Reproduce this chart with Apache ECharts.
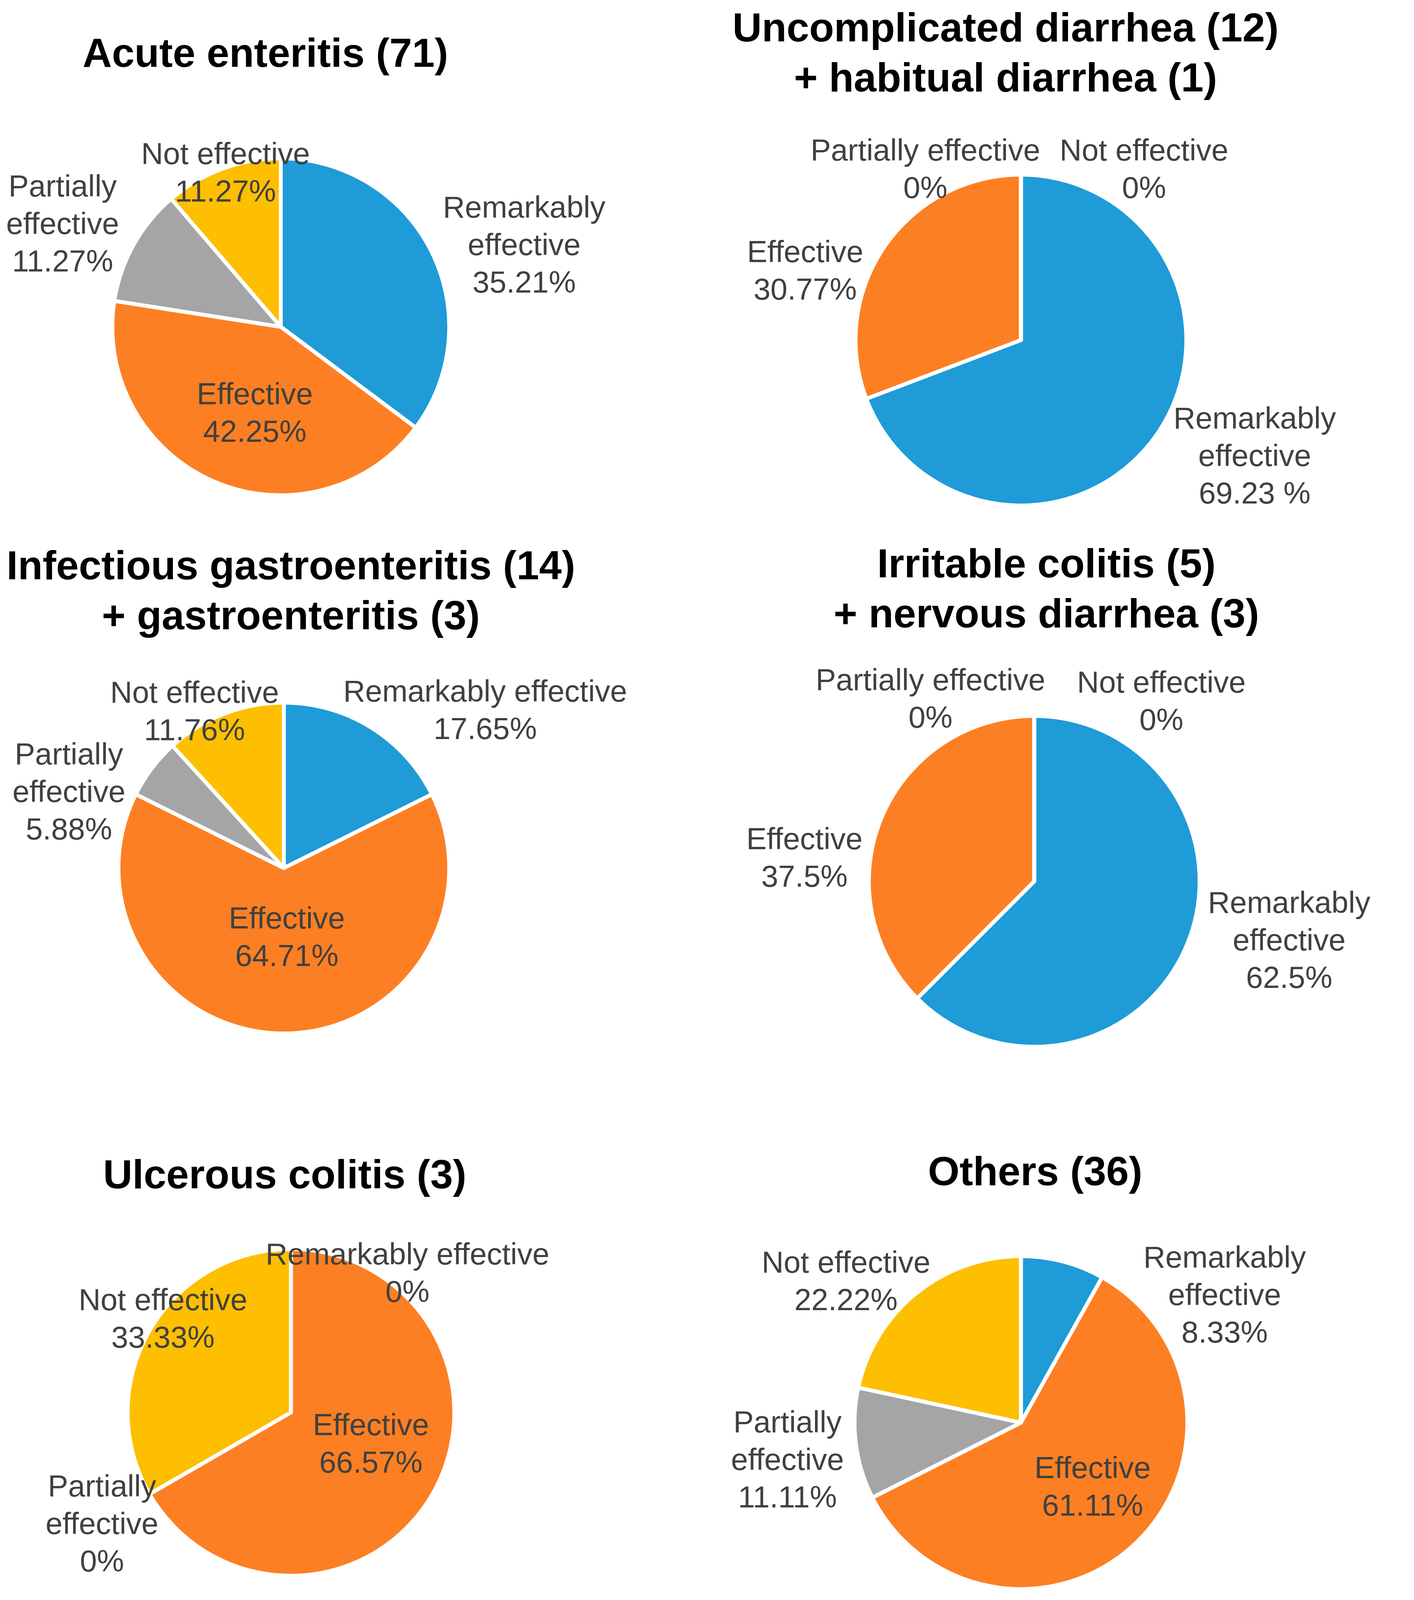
<!DOCTYPE html>
<html><head><meta charset="utf-8">
<script src="https://cdn.jsdelivr.net/npm/echarts@6/dist/echarts.min.js"></script>
<style>html,body{margin:0;padding:0;background:#fff}#c{width:3621px;height:4211px}</style>
</head><body><div id="c"></div>
<script>
// categories and values
const categories = ['Remarkably effective', 'Effective', 'Partially effective', 'Not effective'];
const colors = ['#1f9bd7', '#fd7f23', '#a5a5a5', '#fdbf00'];

const titles = [
  'Acute enteritis (71)',
  'Uncomplicated diarrhea (12)\n+ habitual diarrhea (1)',
  'Infectious gastroenteritis (14)\n+ gastroenteritis (3)',
  'Irritable colitis (5)\n+ nervous diarrhea (3)',
  'Ulcerous colitis (3)',
  'Others (36)'
];
const acuteValues = [35.21, 42.25, 11.27, 11.27];
const uncomplicatedValues = [69.23, 30.77, 0, 0];
const infectiousValues = [17.65, 64.71, 5.88, 11.76];
const irritableValues = [62.5, 37.5, 0, 0];
const ulcerousValues = [0, 66.67, 0, 33.33];
const othersValues = [8.33, 61.11, 11.11, 22.22];
const allValues = [acuteValues, uncomplicatedValues, infectiousValues, irritableValues, ulcerousValues, othersValues];

const labelTexts = [
  ['Remarkably\neffective\n35.21%', 'Effective\n42.25%', 'Partially\neffective\n11.27%', 'Not effective\n11.27%'],
  ['Remarkably\neffective\n69.23 %', 'Effective\n30.77%', 'Partially effective\n0%', 'Not effective\n0%'],
  ['Remarkably effective\n17.65%', 'Effective\n64.71%', 'Partially\neffective\n5.88%', 'Not effective\n11.76%'],
  ['Remarkably\neffective\n62.5%', 'Effective\n37.5%', 'Partially effective\n0%', 'Not effective\n0%'],
  ['Remarkably effective\n0%', 'Effective\n66.57%', 'Partially\neffective\n0%', 'Not effective\n33.33%'],
  ['Remarkably\neffective\n8.33%', 'Effective\n61.11%', 'Partially\neffective\n11.11%', 'Not effective\n22.22%']
];

// layout (reference units, scaled by k)
const k = 3621 / 1385;
const layout = [
  { c: [275, 320], r: 165, t: [258, 28] },
  { c: [1000, 333], r: 162, t: [983, 3] },
  { c: [278, 850], r: 162, t: [283, 530] },
  { c: [1013, 863], r: 162, t: [1023, 528] },
  { c: [285, 1383], r: 160, t: [277, 1126] },
  { c: [1000, 1393], r: 163, t: [1012, 1123] }
];
const inner = [[false, true, false, false], [false, false, false, false], [false, true, false, false],
               [false, false, false, false], [false, true, false, false], [false, true, false, false]];
// label nudges [dx, dy] per slice, reference units
const nudges = [
  [[6, -3], [7, 9], [-9, -17], [89, 9]],
  [[11, 21], [-16, 28], [-208, 0], [36, 0]],
  [[-31, -12], [3, -13], [-21, 27], [57, 3]],
  [[15, -4], [-13, 42], [-216, -11], [40, -9]],
  [[255, 29], [8, -8], [14, 29], [101, -8]],
  [[76, 38], [13, 5], [-6, 17], [18, -7]]
];

const chart = echarts.init(document.getElementById('c'));
const option = {
  backgroundColor: '#fff',
  animation: false,
  title: titles.map((t, i) => ({
    text: t, left: layout[i].t[0] * k, top: layout[i].t[1] * k, textAlign: 'center',
    textStyle: { fontFamily: 'Liberation Sans', fontWeight: 'bold', fontSize: 104, lineHeight: 128, color: '#000' }
  })),
  series: allValues.map((vals, i) => ({
    type: 'pie',
    center: [layout[i].c[0] * k, layout[i].c[1] * k],
    radius: layout[i].r * k,
    startAngle: 90,
    clockwise: true,
    avoidLabelOverlap: false,
    stillShowZeroSum: true,
    itemStyle: { borderColor: '#fff', borderWidth: 10 },
    labelLine: { show: false, length: 10, length2: 0 },
    label: { fontFamily: 'Liberation Sans', fontSize: 78, lineHeight: 96, color: '#404040' },
    labelLayout: (p) => {
      const r = p.labelRect;
      const n = nudges[i][p.dataIndex];
      return {
        x: r.x + r.width / 2 + n[0] * k,
        y: r.y + r.height / 2 + n[1] * k,
        align: 'center', verticalAlign: 'middle', hideOverlap: false
      };
    },
    data: vals.map((v, j) => ({
      name: categories[j], value: v,
      itemStyle: { color: colors[j] },
      label: {
        show: true,
        formatter: labelTexts[i][j],
        position: inner[i][j] ? 'inner' : 'outside'
      }
    }))
  }))
};
chart.setOption(option);
</script></body></html>
